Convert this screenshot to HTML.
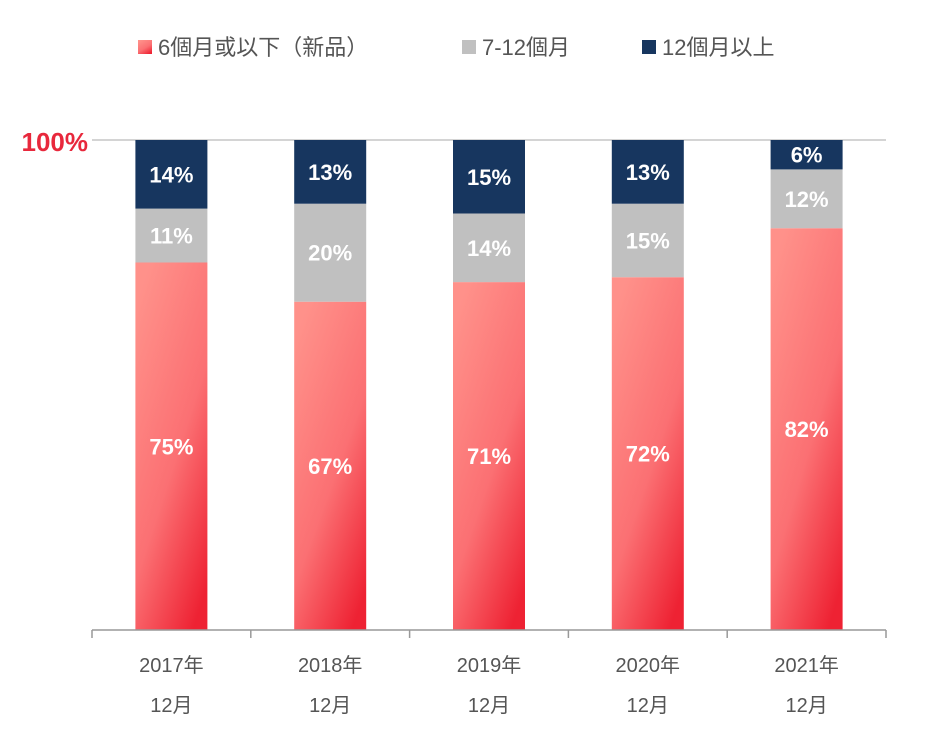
<!DOCTYPE html>
<html><head><meta charset="utf-8"><style>
body{margin:0;background:#fff;}
svg text{font-family:"Liberation Sans","Noto Sans CJK TC",sans-serif;}
</style></head><body>
<svg id="chart" width="927" height="729" xmlns="http://www.w3.org/2000/svg">
<defs>
<linearGradient id="redg" x1="0.2" y1="0" x2="0.8" y2="1">
<stop offset="0" stop-color="#ff918a"/><stop offset="0.55" stop-color="#fb7073"/><stop offset="1" stop-color="#ee2233"/>
</linearGradient>
</defs>
<g>
<g><rect x="138" y="40" width="14" height="14" fill="url(#redg)"/><text x="158" y="55" font-size="22" fill="#555">6個月或以下（新品）</text></g>
<g><rect x="462" y="40" width="14" height="14" fill="#c0c0c0"/><text x="482" y="55" font-size="22" fill="#555">7-12個月</text></g>
<g><rect x="642" y="40" width="14" height="14" fill="#17365f"/><text x="662" y="55" font-size="22" fill="#555">12個月以上</text></g>
</g>
<line x1="92" y1="140" x2="886" y2="140" stroke="#aaa" stroke-width="1"/>
<text x="88" y="151" font-size="26" font-weight="bold" fill="#e8283c" text-anchor="end">100%</text>
<g id="bars"></g>
<g id="axis"></g>
</svg>
<script>
const categories=["2017年","2018年","2019年","2020年","2021年"];
const newVals=[75,67,71,72,82];
const midVals=[11,20,14,15,12];
const oldVals=[14,13,15,13,6];
const NS="http://www.w3.org/2000/svg";
const x0=92,x1=886,yTop=140,yBot=630,bw=72;
const step=(x1-x0)/categories.length;
const xc=i=>x0+step*(i+0.5);
const y=v=>yBot-(yBot-yTop)*v/100;
const bars=document.getElementById('bars'),axis=document.getElementById('axis');
function mk(tag,attrs,parent){const e=document.createElementNS(NS,tag);for(const k in attrs)e.setAttribute(k,attrs[k]);parent.appendChild(e);return e;}
const series=[[newVals,'url(#redg)','new'],[midVals,'#c0c0c0','mid'],[oldVals,'#17365f','old']];
categories.forEach((c,i)=>{
  let base=0;
  series.forEach(([vals,fill,nm])=>{
    const v=vals[i];
    const r=mk('rect',{x:xc(i)-bw/2,y:y(base+v),width:bw,height:y(base)-y(base+v),fill:fill},bars);
    
    
    const t=mk('text',{x:xc(i),y:(y(base)+y(base+v))/2+8,'font-size':22,'font-weight':'bold',fill:'#fff','text-anchor':'middle'},bars);
    t.textContent=v+'%';
    
    
    base+=v;
  });
  const l1=mk('text',{x:xc(i),y:672,'font-size':20,fill:'#555','text-anchor':'middle'},axis);
  l1.textContent=c;
  
  
  const l2=mk('text',{x:xc(i),y:712,'font-size':20,fill:'#555','text-anchor':'middle'},axis);
  l2.textContent='12月';
  
  
});
const ax=mk('line',{x1:x0,y1:yBot,x2:x1,y2:yBot,stroke:'#999','stroke-width':1.5},axis);


for(let i=0;i<=categories.length;i++){
  const tk=mk('line',{x1:x0+step*i,y1:yBot,x2:x0+step*i,y2:yBot+8,stroke:'#999','stroke-width':1.5},axis);
  
  
}
</script>
</body></html>
